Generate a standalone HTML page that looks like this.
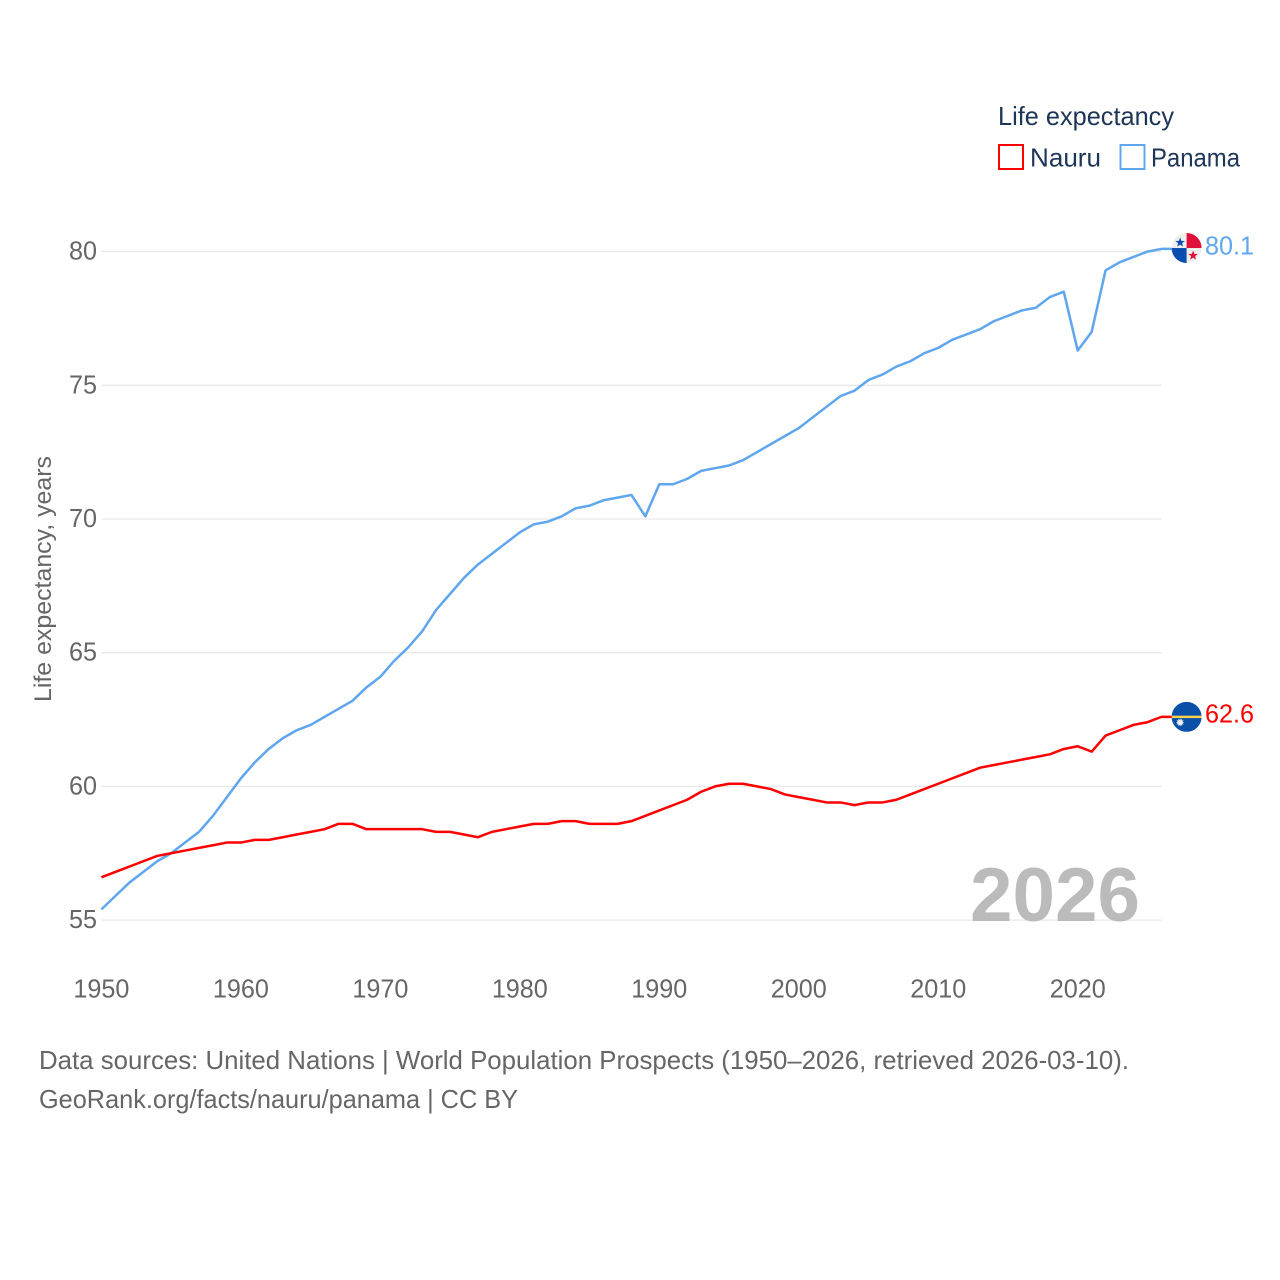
<!DOCTYPE html>
<html lang="en">
<head>
<meta charset="utf-8">
<title>Life expectancy: Nauru vs Panama</title>
<style>
  html, body { margin: 0; padding: 0; background: #fff; }
  svg { display: block; font-family: "Liberation Sans", sans-serif; }
</style>
</head>
<body>
<svg id="chart" xmlns="http://www.w3.org/2000/svg" width="1280" height="1280" viewBox="0 0 1280 1280">
  <defs>
    <clipPath id="flag-clip"><circle cx="0" cy="0" r="15"></circle></clipPath>
  </defs>
  <rect x="0" y="0" width="1280" height="1280" fill="#ffffff"></rect>
  <g id="grid"></g>
  <g id="y-ticks"></g>
  <g id="x-ticks"></g>
  <text x="970" y="921" font-size="76" font-weight="700" fill="#bbbbbb" textLength="170" lengthAdjust="spacingAndGlyphs">2026</text>
  <text transform="translate(51,702) rotate(-90)" font-size="24" fill="#666666" textLength="246" lengthAdjust="spacingAndGlyphs">Life expectancy, years</text>
  <g id="series"></g>
  <g id="flags"></g>

  <g>
    <text x="998" y="125" font-size="26" fill="#1d3557" textLength="176" lengthAdjust="spacingAndGlyphs">Life expectancy</text>
    <g>
      <rect x="999" y="145" width="24" height="24" fill="none" stroke="#ff0000" stroke-width="2"></rect>
      <text x="1030" y="166.5" font-size="26" fill="#1d3557" textLength="71" lengthAdjust="spacingAndGlyphs">Nauru</text>
    </g>
    <g>
      <rect x="1120.5" y="145" width="24" height="24" fill="none" stroke="#5fa6ee" stroke-width="2"></rect>
      <text x="1151" y="166.5" font-size="26" fill="#1d3557" textLength="89" lengthAdjust="spacingAndGlyphs">Panama</text>
    </g>
  </g>

  <text x="39" y="1069" font-size="26" fill="#666666" textLength="1090" lengthAdjust="spacingAndGlyphs">Data sources: United Nations | World Population Prospects (1950–2026, retrieved 2026-03-10).</text>
  <text x="39" y="1108" font-size="26" fill="#666666" textLength="479" lengthAdjust="spacingAndGlyphs">GeoRank.org/facts/nauru/panama | CC BY</text>
</svg>

<script>
const startYear = 1950;
const endYear = 2026;
const yTickValues = [55, 60, 65, 70, 75, 80];
const xTickValues = [1950, 1960, 1970, 1980, 1990, 2000, 2010, 2020];
const panamaValues = [
  55.4, 55.9, 56.4, 56.8, 57.2, 57.5, 57.9, 58.3, 58.9, 59.6,
  60.3, 60.9, 61.4, 61.8, 62.1, 62.3, 62.6, 62.9, 63.2, 63.7,
  64.1, 64.7, 65.2, 65.8, 66.6, 67.2, 67.8, 68.3, 68.7, 69.1,
  69.5, 69.8, 69.9, 70.1, 70.4, 70.5, 70.7, 70.8, 70.9, 70.1,
  71.3, 71.3, 71.5, 71.8, 71.9, 72.0, 72.2, 72.5, 72.8, 73.1,
  73.4, 73.8, 74.2, 74.6, 74.8, 75.2, 75.4, 75.7, 75.9, 76.2,
  76.4, 76.7, 76.9, 77.1, 77.4, 77.6, 77.8, 77.9, 78.3, 78.5,
  76.3, 77.0, 79.3, 79.6, 79.8, 80.0, 80.1
];
const nauruValues = [
  56.6, 56.8, 57.0, 57.2, 57.4, 57.5, 57.6, 57.7, 57.8, 57.9,
  57.9, 58.0, 58.0, 58.1, 58.2, 58.3, 58.4, 58.6, 58.6, 58.4,
  58.4, 58.4, 58.4, 58.4, 58.3, 58.3, 58.2, 58.1, 58.3, 58.4,
  58.5, 58.6, 58.6, 58.7, 58.7, 58.6, 58.6, 58.6, 58.7, 58.9,
  59.1, 59.3, 59.5, 59.8, 60.0, 60.1, 60.1, 60.0, 59.9, 59.7,
  59.6, 59.5, 59.4, 59.4, 59.3, 59.4, 59.4, 59.5, 59.7, 59.9,
  60.1, 60.3, 60.5, 60.7, 60.8, 60.9, 61.0, 61.1, 61.2, 61.4,
  61.5, 61.3, 61.9, 62.1, 62.3, 62.4, 62.6
];

const NS = 'http://www.w3.org/2000/svg';
const plotLeft = 101.4;
const plotRight = 1161.4;
const y80 = 251.6;
const y55 = 920.1;

function xScale(year) {
  return plotLeft + (year - startYear) * (plotRight - plotLeft) / (endYear - startYear);
}
function yScale(value) {
  return y55 - (value - 55) * (y55 - y80) / 25;
}
function svgEl(tag, attrs, parent, text) {
  const el = document.createElementNS(NS, tag);
  for (const key in attrs) el.setAttribute(key, attrs[key]);
  if (text !== undefined) el.textContent = text;
  parent.appendChild(el);
  return el;
}

const gridGroup = document.getElementById('grid');
const yTickGroup = document.getElementById('y-ticks');
yTickValues.forEach(function (v) {
  const y = yScale(v);
  const line = svgEl('line', { x1: plotLeft, x2: plotRight, y1: y, y2: y, stroke: '#e9e9e9', 'stroke-width': 1.3 }, gridGroup);
  
  
  const label = svgEl('text', { x: 69, y: y + 8, 'font-size': 26, fill: '#666666', textLength: 28, lengthAdjust: 'spacingAndGlyphs' }, yTickGroup, String(v));
  
  
});

const xTickGroup = document.getElementById('x-ticks');
xTickValues.forEach(function (year) {
  const label = svgEl('text', { x: xScale(year) - 28, y: 997.5, 'font-size': 26, fill: '#666666', textLength: 56, lengthAdjust: 'spacingAndGlyphs' }, xTickGroup, String(year));
  
  
});

function linePath(values) {
  return values.map(function (v, i) {
    return (i ? 'L' : 'M') + xScale(startYear + i).toFixed(2) + ' ' + yScale(v).toFixed(2);
  }).join(' ');
}

const seriesGroup = document.getElementById('series');
const flagGroup = document.getElementById('flags');

function drawEnd(values, color, name, flagShift) {
  const last = values[values.length - 1];
  const path = svgEl('path', { d: linePath(values) + ' H1172', fill: 'none', stroke: color, 'stroke-width': 2.5, 'stroke-linejoin': 'round' }, seriesGroup);
  
  
  const y = yScale(last);
  const flag = svgEl('g', { transform: 'translate(1186.6,' + (y + flagShift).toFixed(2) + ')', 'clip-path': 'url(#flag-clip)' }, flagGroup);
  
  
  const label = svgEl('text', { x: 1205, y: y + 5.4, 'font-size': 26, fill: color, textLength: 49, lengthAdjust: 'spacingAndGlyphs' }, flagGroup, last.toFixed(1));
  
  
  return flag;
}

function star(cx, cy, r, color, parent, points, inner) {
  const pts = [];
  for (let i = 0; i < points * 2; i++) {
    const rad = i % 2 ? r * inner : r;
    const a = -Math.PI / 2 + i * Math.PI / points;
    pts.push((cx + rad * Math.cos(a)).toFixed(2) + ',' + (cy + rad * Math.sin(a)).toFixed(2));
  }
  return svgEl('polygon', { points: pts.join(' '), fill: color }, parent);
}

const panamaFlag = drawEnd(panamaValues, '#5fa6ee', 'panama', -0.9);
svgEl('rect', { x: -15, y: -15, width: 30, height: 30, fill: '#eeeeee' }, panamaFlag);
svgEl('rect', { x: 0, y: -15, width: 15, height: 15, fill: '#e0103a' }, panamaFlag);
svgEl('rect', { x: -15, y: 0, width: 15, height: 15, fill: '#0a4db0' }, panamaFlag);
star(-6.5, -5.5, 5, '#0a4db0', panamaFlag, 5, 0.42);
star(6.5, 7.5, 5, '#e0103a', panamaFlag, 5, 0.42);

const nauruFlag = drawEnd(nauruValues, '#ff0000', 'nauru', 0);
svgEl('rect', { x: -15, y: -15, width: 30, height: 30, fill: '#0a4fa8' }, nauruFlag);
svgEl('rect', { x: -15, y: -1.2, width: 30, height: 2.4, fill: '#ffd24d' }, nauruFlag);
star(-6.5, 5.5, 4.2, '#eeeeee', nauruFlag, 12, 0.6);
</script>
</body>
</html>
